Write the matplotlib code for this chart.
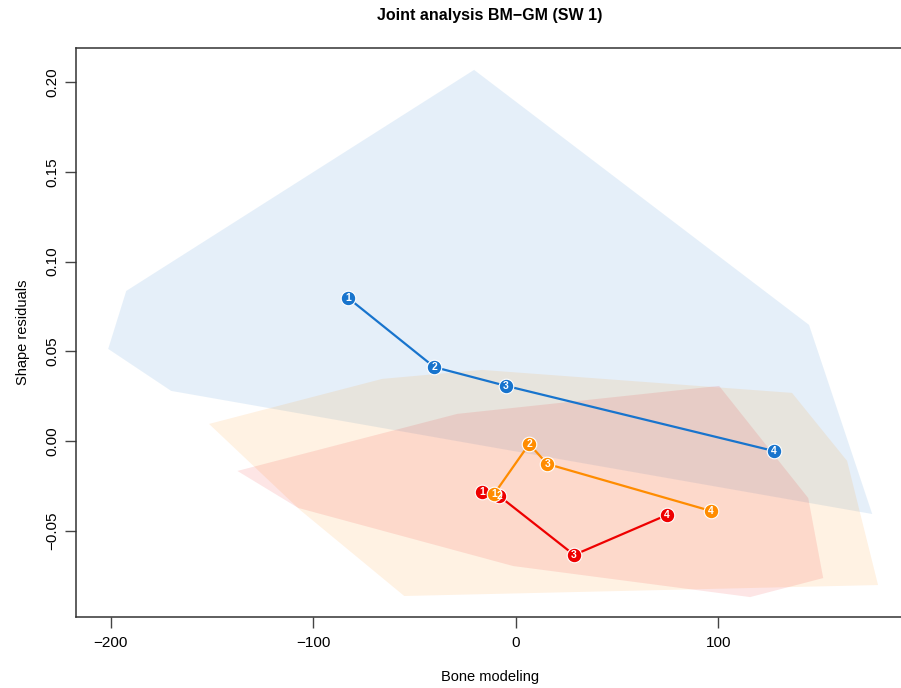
import numpy as np
import matplotlib
matplotlib.use("Agg")
import matplotlib.pyplot as plt
from matplotlib.patches import Polygon

plt.rcParams['font.family'] = ['Liberation Sans', 'DejaVu Sans']

# trajectories (bone modeling, shape residuals), stages 1..4
stages = ['1', '2', '3', '4']
blue_x = [-82.8, -40.3, -4.8, 127.5]
blue_y = [0.0797, 0.0412, 0.0307, -0.0056]
orange_x = [-10.7, 6.6, 15.5, 96.4]
orange_y = [-0.0295, -0.0017, -0.0128, -0.0390]
red_x = [-16.6, -8.2, 28.8, 74.7]
red_y = [-0.0284, -0.0307, -0.0635, -0.0412]

# hull outlines
blue_hull_x = [-20.6, 144.8, 176.0, -170.2, -201.3, -192.4]
blue_hull_y = [0.2068, 0.0647, -0.0407, 0.0279, 0.0513, 0.0836]
orange_hull_x = [-151.5, -66.0, -16.6, 136.4, 163.6, 178.9, -55.1, -106.5]
orange_hull_y = [0.0095, 0.0346, 0.0396, 0.0268, -0.0111, -0.0803, -0.0864, -0.0385]
red_hull_x = [-137.5, -28.9, 100.4, 144.4, 151.8, 115.7, -1.3, -107.5]
red_hull_y = [-0.0167, 0.0151, 0.0307, -0.0318, -0.0764, -0.0870, -0.0697, -0.0373]

col_blue = '#1874CD'
col_orange = '#FF8C00'
col_red = '#EE0000'

fig = plt.figure(figsize=(9.01, 6.88), dpi=100)
ax = fig.add_axes([76/901, 1 - 617/688, (904 - 76)/901, (617 - 48)/688])

for hx, hy, c, a in [(blue_hull_x, blue_hull_y, col_blue, 0.11),
                     (orange_hull_x, orange_hull_y, col_orange, 0.11),
                     (red_hull_x, red_hull_y, col_red, 0.10)]:
    ax.add_patch(Polygon(np.column_stack([hx, hy]), closed=True,
                         facecolor=c, alpha=a, edgecolor='none', zorder=1))

for xs, ys, c in [(blue_x, blue_y, col_blue),
                  (red_x, red_y, col_red),
                  (orange_x, orange_y, col_orange)]:
    ax.plot(xs, ys, color=c, lw=1.6, zorder=2)
    ax.plot(xs, ys, 'o', color=c, ms=10.5, mec='white', mew=0.8, zorder=3)
    for x, y, s in zip(xs, ys, stages):
        ax.text(x, y, s, color='white', fontsize=7.5, fontweight='bold',
                ha='center', va='center', zorder=4)

ax.set_xlim(-217.2, 191.7)
ax.set_ylim(-0.0981, 0.219)
ax.set_xticks([-200, -100, 0, 100])
ax.set_xticklabels(['\u2212200', '\u2212100', '0', '100'])
ax.set_yticks([-0.05, 0.0, 0.05, 0.10, 0.15, 0.20])
ax.set_yticklabels(['\u22120.05', '0.00', '0.05', '0.10', '0.15', '0.20'],
                   rotation=90, va='center')
ax.tick_params(length=8, width=1, color='#444444', labelsize=11)
ax.tick_params(axis='x', pad=6)
ax.tick_params(axis='y', pad=4)
for sp in ax.spines.values():
    sp.set_color('#333333')
    sp.set_linewidth(1.1)

ax.set_title('Joint analysis BM\u2212GM (SW 1)', fontsize=11.5, fontweight='bold', pad=20)
ax.set_xlabel('Bone modeling', fontsize=10.5, labelpad=14)
ax.set_ylabel('Shape residuals', fontsize=10.5, labelpad=11)

fig.savefig('out.png', dpi=100)
